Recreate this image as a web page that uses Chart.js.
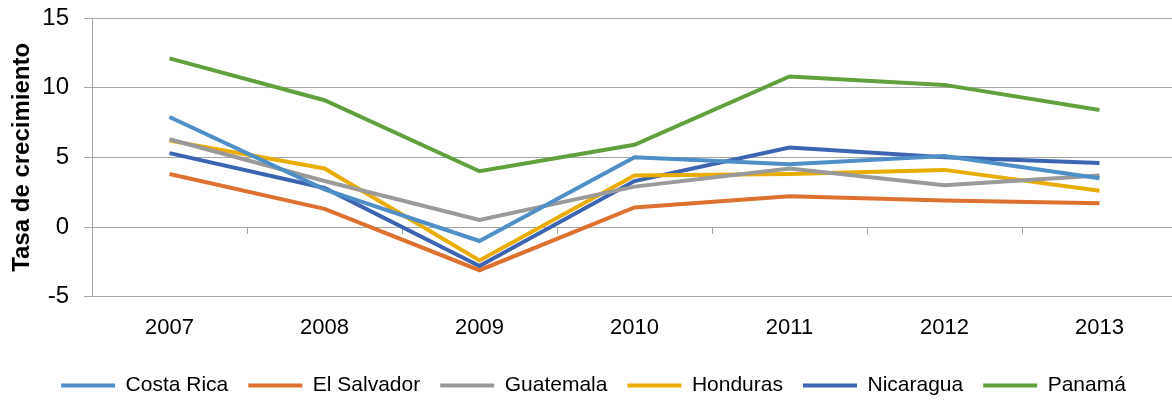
<!DOCTYPE html>
<html lang="es">
<head>
<meta charset="utf-8">
<title>Tasa de crecimiento</title>
<script src="https://cdn.jsdelivr.net/npm/chart.js@4/dist/chart.umd.min.js"></script>
<style>
  html, body { margin: 0; padding: 0; background: #fff; overflow: hidden; }
</style>
</head>
<body>
<!-- a few px wider than the window: the plot runs off the right edge like the original -->
<canvas id="chart" width="1177" height="400" style="display:block;width:1177px;height:400px"></canvas>
<script>
// data
const years = ["2007", "2008", "2009", "2010", "2011", "2012", "2013"];
const costaRica  = [7.9, 2.7, -1.0, 5.0, 4.5, 5.1, 3.5];
const elSalvador = [3.8, 1.3, -3.1, 1.4, 2.2, 1.9, 1.7];
const guatemala  = [6.3, 3.3, 0.5, 2.9, 4.2, 3.0, 3.7];
const honduras   = [6.2, 4.2, -2.4, 3.7, 3.8, 4.1, 2.6];
const nicaragua  = [5.3, 2.8, -2.8, 3.3, 5.7, 5.0, 4.6];
const panama     = [12.1, 9.1, 4.0, 5.9, 10.8, 10.2, 8.4];
const yTicks = [-5, 0, 5, 10, 15];

const gridColor = "#a6a6a6";

Chart.defaults.font.family = '"Liberation Sans", Arial, sans-serif';
Chart.defaults.color = "#000";

function series(label, data, color) {
  return {
    label: label,
    data: data,
    borderColor: color,
    backgroundColor: color,
    borderWidth: 4,
    pointRadius: 0,
    tension: 0,
    fill: false
  };
}

function noPadding(s) {
  s.paddingTop = 0; s.paddingBottom = 0;
  s.paddingLeft = 0; s.paddingRight = 0;
}

// small tick marks on the zero line, between the categories
const zeroTicks = {
  id: "zeroTicks",
  beforeDatasetsDraw(chart) {
    const { ctx, scales: { x, y } } = chart;
    const y0 = y.getPixelForValue(0);
    const half = (x.getPixelForValue(1) - x.getPixelForValue(0)) / 2;
    ctx.save();
    ctx.strokeStyle = gridColor;
    ctx.lineWidth = 1;
    ctx.beginPath();
    for (let i = 0; i < years.length; i++) {
      const px = Math.round(x.getPixelForValue(i) + half) + 0.5;
      ctx.moveTo(px, y0);
      ctx.lineTo(px, y0 + 7);
    }
    ctx.stroke();
    ctx.restore();
  }
};

// nudge the legend to where the original has it
const legendShift = {
  id: "legendShift",
  afterLayout(chart) {
    const lg = chart.legend;
    if (!lg) return;
    lg.left += 5; lg.right += 5;
    lg.top += 6; lg.bottom += 6;
  }
};

new Chart(document.getElementById("chart"), {
  type: "line",
  data: {
    labels: years,
    datasets: [
      series("Costa Rica", costaRica, "#4f8ec6"),
      series("El Salvador", elSalvador, "#dd7230"),
      series("Guatemala", guatemala, "#9a9a9a"),
      series("Honduras", honduras, "#e8ad00"),
      series("Nicaragua", nicaragua, "#3d64b0"),
      series("Panamá", panama, "#62a03f")
    ]
  },
  options: {
    responsive: false,
    maintainAspectRatio: false,
    devicePixelRatio: 1,
    animation: false,
    layout: { autoPadding: false, padding: { left: 0, right: 0, top: 18, bottom: 0 } },
    plugins: {
      tooltip: { enabled: false },
      legend: {
        position: "bottom",
        labels: {
          usePointStyle: true,
          pointStyle: "line",
          pointStyleWidth: 54,
          padding: 20,
          color: "#000",
          font: { size: 21 }
        }
      }
    },
    scales: {
      x: {
        offset: true,
        grid: { display: false, drawTicks: false },
        border: { display: false },
        ticks: { padding: 18, font: { size: 22 }, maxRotation: 0 },
        afterFit: s => { s.height = 52.3; noPadding(s); }
      },
      y: {
        min: -5,
        max: 15,
        afterBuildTicks: s => { s.ticks = yTicks.map(v => ({ value: v })); },
        grid: { color: gridColor, lineWidth: 1, tickLength: 8 },
        border: { display: true, color: gridColor, width: 1 },
        ticks: { padding: 15, font: { size: 24 } },
        title: {
          display: true,
          text: "Tasa de crecimiento",
          font: { size: 24, weight: "bold" },
          padding: { top: 8, bottom: 0 }
        },
        afterFit: s => { s.width = 92; noPadding(s); }
      }
    }
  },
  plugins: [zeroTicks, legendShift]
});
</script>
</body>
</html>
